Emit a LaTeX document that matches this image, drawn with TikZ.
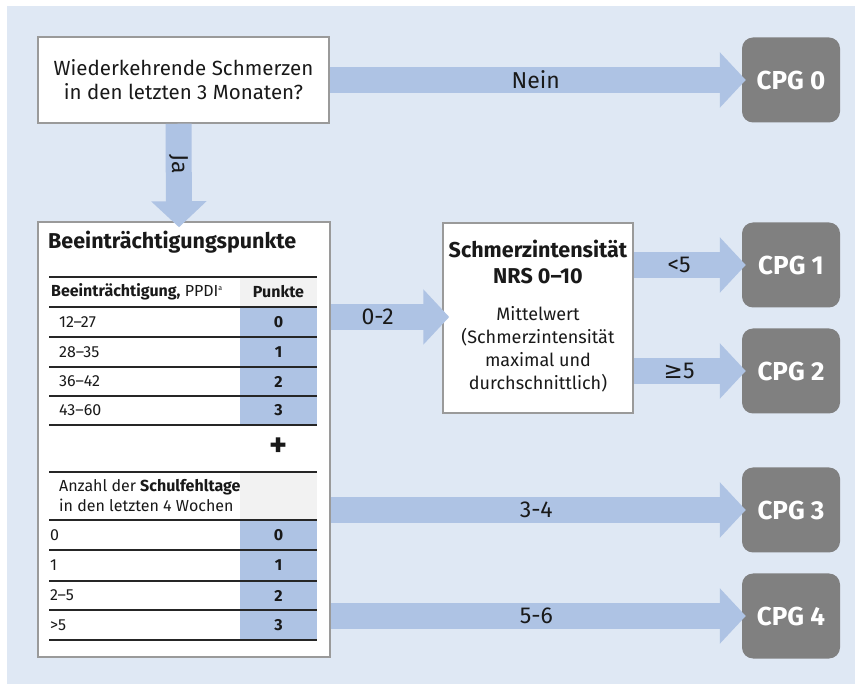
\documentclass[tikz,border=0pt]{standalone}
\usepackage{fontspec}
\setmainfont{Fira Sans}
\newfontfamily\symfont{DejaVu Sans}
\usetikzlibrary{arrows.meta, positioning}

\definecolor{bgblue}{HTML}{DFE8F4}
\definecolor{arrowblue}{HTML}{AEC3E4}
\definecolor{cpggray}{HTML}{808080}
\definecolor{framegray}{HTML}{9A9A9A}
\definecolor{headgray}{HTML}{F2F2F2}

\begin{document}
\begin{tikzpicture}[
    x=1pt, y=-1pt,
    every node/.style={inner sep=0pt, text=black!90},
    infobox/.style={rectangle, draw=framegray, line width=1.5pt, fill=white},
    cpg/.style={rectangle, fill=cpggray, rounded corners=11pt, text=white, minimum width=98pt, minimum height=85pt, font=\fontsize{26}{28}\selectfont\bfseries},
    blockarrow/.style={draw=arrowblue, line width=26pt, -{Triangle[length=26pt, width=54pt]}, shorten >=-4pt},
    lab/.style={font=\fontsize{23}{26}\selectfont},
    celltext/.style={font=\fontsize{16}{20}\selectfont},
    rule/.style={draw=black!85, line width=1.2pt}
]
    % Background and size
    \useasboundingbox (0,0) rectangle (855,684);
    \fill[bgblue] (7,6) rectangle (855,684);

    % Main boxes
    \node[infobox, minimum width=291pt, minimum height=86pt, align=center, font=\fontsize{20.5}{24}\selectfont] (q) at (183.5,80) {Wiederkehrende Schmerzen\\in den letzten 3 Monaten?};
    \node[infobox, minimum width=292pt, minimum height=435pt] (tab) at (184,439.5) {};
    \node[infobox, minimum width=190pt, minimum height=190pt] (schm) at (538,318) {};
    \node[align=center, font=\fontsize{21.5}{26}\selectfont\bfseries, below=18pt of schm.north] (schmtitle) {Schmerzintensität\\NRS 0–10};
    \node[align=center, font=\fontsize{18}{23}\selectfont, below=22pt of schmtitle] (schmbody) {Mittelwert\\(Schmerzintensität\\maximal und\\durchschnittlich)};

    % CPG classes
    \node[cpg] (cpg0) at (791,80) {CPG 0};
    \node[cpg] (cpg1) at (791,265) {CPG 1};
    \node[cpg] (cpg2) at (791,371) {CPG 2};
    \node[cpg] (cpg3) at (791,510) {CPG 3};
    \node[cpg] (cpg4) at (791,616) {CPG 4};

    % Table inside the left box
    \node[anchor=west, font=\fontsize{21.5}{24}\selectfont\bfseries] (tabtitle) at (48,242) {Beeinträchtigungspunkte};
    \fill[headgray] (240,277) rectangle (317,307);
    \fill[arrowblue] (240,307) rectangle (317,425);
    \fill[headgray] (240,472) rectangle (317,520);
    \fill[arrowblue] (240,520) rectangle (317,640);
    \foreach \y in {277,307,337,367,396,425,472,520,550,581,610,640}
        \draw[rule] (49,\y) -- (317,\y);
    \node[celltext, anchor=west] (hdr) at (51,292) {\textbf{Beeinträchtigung,} PPDI\raisebox{6pt}{\fontsize{7}{7}\selectfont a}};
    \node[celltext, font=\fontsize{16}{20}\selectfont\bfseries] (hdrpkt) at (278.5,292) {Punkte};
    \foreach \t/\p/\y [count=\i] in {12–27/0/322, 28–35/1/352, 36–42/2/381.5, 43–60/3/410.5} {
        \node[celltext, anchor=west] (ppdi\i) at (59,\y) {\t};
        \node[celltext, font=\fontsize{16}{20}\selectfont\bfseries] (ppdipkt\i) at (278.5,\y) {\p};
    }
    \node[font=\fontsize{34}{34}\selectfont\bfseries] (plus) at (278.5,447) {+};
    \node[celltext, anchor=west, align=left] (fehl) at (59,496) {Anzahl der \textbf{Schulfehltage}\\in den letzten 4 Wochen};
    \foreach \t/\p/\y [count=\i] in {0/0/535, 1/1/565.5, 2–5/2/595.5, >5/3/625} {
        \node[celltext, anchor=west] (tage\i) at (50,\y) {\t};
        \node[celltext, font=\fontsize{16}{20}\selectfont\bfseries] (tagepkt\i) at (278.5,\y) {\p};
    }

    % Block arrows
    \coordinate (y02) at (0,317);
    \draw[blockarrow] (q.east) -- (cpg0.west) node[midway, lab] (nein) {Nein};
    \draw[blockarrow, shorten >=-6pt] ([xshift=-5pt]q.south) -- ([xshift=-5pt]tab.north) node[pos=0.42, lab, rotate=-90] (ja) {Ja};
    \draw[blockarrow, shorten >=-7pt] (tab.east |- y02) -- (schm.west |- y02) node[pos=0.42, lab] (l02) {0-2};
    \draw[blockarrow] (schm.east |- cpg1) -- (cpg1.west) node[pos=0.42, lab] (lkl5) {<5};
    \draw[blockarrow] (schm.east |- cpg2) -- (cpg2.west) node[pos=0.42, lab] (lgr5) {{\symfont ≥}5};
    \draw[blockarrow] (tab.east |- cpg3) -- (cpg3.west) node[midway, lab] (l34) {3-4};
    \draw[blockarrow] (tab.east |- cpg4) -- (cpg4.west) node[midway, lab] (l56) {5-6};
\end{tikzpicture}
\end{document}
